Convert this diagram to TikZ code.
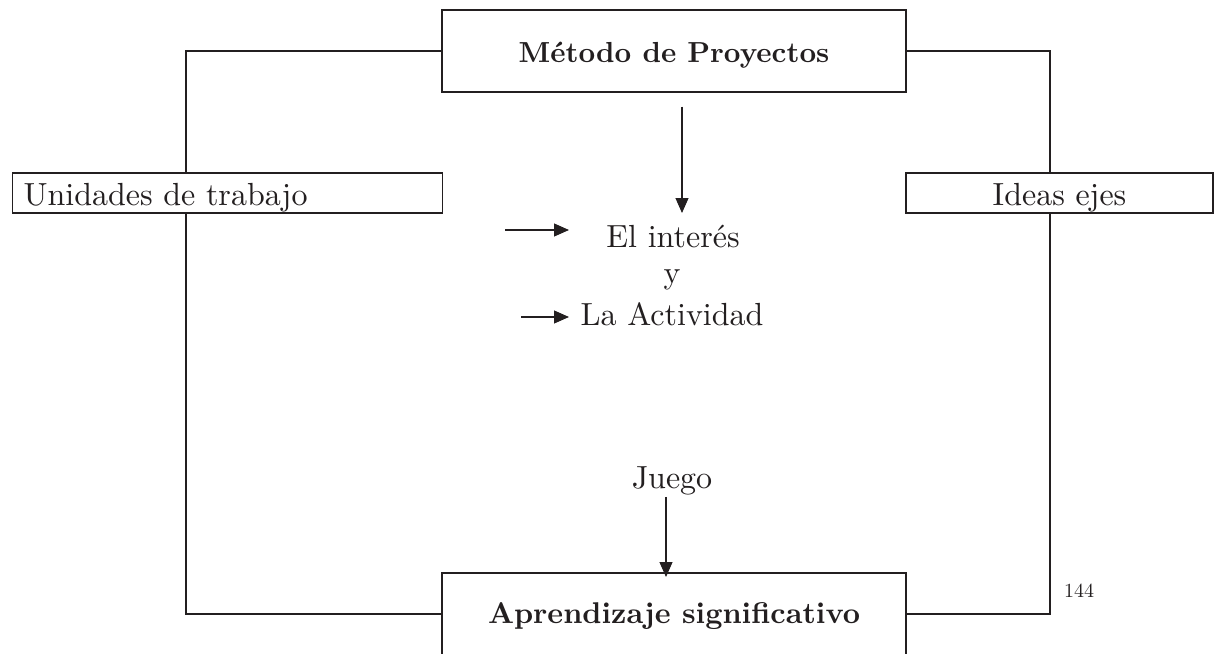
\documentclass[tikz,border=0pt]{standalone}
\usepackage{fontspec}
\setmainfont{lmroman10-regular.otf}[BoldFont=lmroman10-bold.otf]
\usetikzlibrary{arrows.meta}
\definecolor{ink}{HTML}{231F20}
\begin{document}
\begin{tikzpicture}[x=1pt,y=-1pt,
  line/.style={draw=ink,line width=1.3pt},
  arr/.style={draw=ink,line width=1.1pt,-{Triangle[length=15pt,width=13pt]}},
  boldbox/.style={draw=ink,line width=1.3pt,text=ink,minimum width=464pt,minimum height=82pt,inner sep=0pt,font=\fontsize{29}{35}\selectfont\bfseries},
  sidebox/.style={draw=ink,line width=1.3pt,text=ink,minimum height=40pt,inner sep=0pt,text height=28pt,text depth=4pt,font=\fontsize{32}{38}\selectfont},
  txt/.style={inner sep=0pt,anchor=base,text=ink,font=\fontsize{32}{38}\selectfont}]
\useasboundingbox (0,0) rectangle (1217,653);
% boxes
\node[boldbox,text height=27pt,text depth=5pt] (top) at (674,51) {Método de Proyectos};
\node[boldbox,font=\fontsize{30}{36}\selectfont\bfseries,text height=24pt,text depth=6pt] (bot) at (674,614) {Aprendizaje significativo};
\node[sidebox,anchor=west,minimum width=430pt,inner xsep=11pt,text width=408pt,align=left] (lbox) at (12,193) {Unidades de trabajo};
\node[sidebox,minimum width=307pt] (rbox) at (1059.5,193) {Ideas ejes};
% texts
\node[txt] (interes) at (673,247) {El interés};
\node[txt] (ytxt) at (672,283) {y};
\node[txt] (activ) at (672,325) {La Actividad};
\node[txt] (juego) at (672,488) {Juego};
\node[txt,font=\fontsize{20}{24}\selectfont] (page) at (1079,597) {144};
% guide coordinates
\coordinate (lx) at (186,0);
\coordinate (rx) at (1050,0);
\coordinate (ax) at (682,213);
\coordinate (jx) at (666,577);
\coordinate (s1a) at (505,230);
\coordinate (s1b) at (569,230);
\coordinate (s2a) at (521,317);
\coordinate (s2b) at (569,317);
% connectors
\draw[line] (top.west) -| (lbox.north -| lx);
\draw[line] (lbox.south -| lx) |- (bot.west);
\draw[line] (top.east) -| (rbox.north -| rx);
\draw[line] (rbox.south -| rx) |- (bot.east);
\draw[arr,shorten <=14pt] (top.south -| ax) -- (ax);
\draw[arr] (s1a) -- (s1b);
\draw[arr] (s2a) -- (s2b);
\draw[arr,shorten <=2pt] (juego.south -| jx) -- (jx);
\end{tikzpicture}
\end{document}
